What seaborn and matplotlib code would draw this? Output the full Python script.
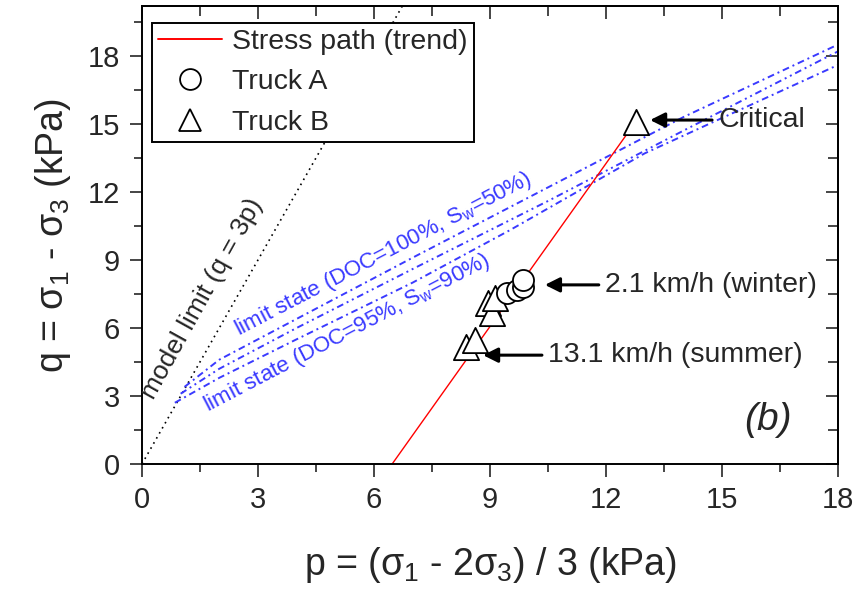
import numpy as np
import pandas as pd
import matplotlib
matplotlib.use("Agg")
import matplotlib.pyplot as plt
import seaborn as sns
from matplotlib.ticker import MultipleLocator
from matplotlib.lines import Line2D

# Stress path trend (p, q) in kPa
stress_p = [6.47, 12.77]
stress_q = [0.0, 15.1]

# Truck A measurements
truck_a_p = [9.44, 9.70, 9.85, 9.85]
truck_a_q = [7.53, 7.68, 7.80, 8.10]

# Truck B measurements (last point = critical state)
truck_b_p = [8.38, 8.61, 8.95, 9.05, 9.13, 12.77]
truck_b_q = [5.16, 5.47, 7.10, 6.66, 7.30, 15.1]

# Model limit q = 3p
model_p = [0.0, 6.8]
model_q = [0.0, 20.4]

# Limit-state envelopes
ls_upper_p = [1.10, 2.0, 4.0, 7.0, 10.5, 14.0, 18.0]
ls_upper_q = [3.40, 4.6, 6.4, 9.1, 12.2, 15.3, 18.5]
ls_mid_p = [1.00, 2.0, 4.0, 7.0, 10.5, 14.0, 18.0]
ls_mid_q = [3.10, 4.2, 6.0, 8.6, 11.6, 14.7, 18.2]
ls_lower_p = [0.85, 2.0, 4.0, 7.0, 9.5, 13.0, 18.0]
ls_lower_q = [2.70, 3.8, 5.5, 8.0, 10.3, 13.7, 17.6]

sns.set_theme(style="ticks")
plt.rcParams["font.family"] = ["Liberation Sans", "DejaVu Sans"]
plt.rcParams["mathtext.fontset"] = "custom"
plt.rcParams["mathtext.rm"] = "Liberation Sans"
plt.rcParams["mathtext.it"] = "Liberation Sans:italic"
plt.rcParams["mathtext.default"] = "regular"

fig = plt.figure(figsize=(8.61, 5.90), dpi=100)
ax = fig.add_axes([0.1649, 0.2136, 0.8084, 0.7762])

blue = "#3a3aff"

# model limit
sns.lineplot(x=model_p, y=model_q, ax=ax, color="black", lw=1.2,
             linestyle=(0, (1, 2.5)), sort=False)

# limit-state lines
for lp, lq, dash in [(ls_upper_p, ls_upper_q, (0, (3.5, 2, 1, 2))),
                     (ls_mid_p, ls_mid_q, (0, (3.5, 2, 1, 2, 1, 2))),
                     (ls_lower_p, ls_lower_q, (0, (3.5, 2, 1, 2)))]:
    sns.lineplot(x=lp, y=lq, ax=ax, color=blue, lw=1.4, linestyle=dash, sort=False)

# stress path
sns.lineplot(x=stress_p, y=stress_q, ax=ax, color="red", lw=1.0, sort=False)

# truck markers
sns.scatterplot(x=truck_b_p, y=truck_b_q, ax=ax, marker="^", s=330,
                facecolor="white", edgecolor="black", linewidth=1.3, zorder=5)
sns.scatterplot(x=truck_a_p, y=truck_a_q, ax=ax, marker="o", s=230,
                facecolor="white", edgecolor="black", linewidth=1.3, zorder=6)

ax.set_xlim(0, 18)
ax.set_ylim(0, 20.2)
ax.xaxis.set_major_locator(MultipleLocator(3))
ax.xaxis.set_minor_locator(MultipleLocator(1.5))
ax.yaxis.set_major_locator(MultipleLocator(3))
ax.yaxis.set_minor_locator(MultipleLocator(1.5))
ax.tick_params(which="both", direction="out", width=1.2, labelsize=21,
               top=False, right=False, pad=7)
ax.tick_params(which="major", length=9)
ax.tick_params(which="minor", length=6)
for s in ax.spines.values():
    s.set_visible(True)
    s.set_linewidth(1.4)
    s.set_color("black")

# mirrored inward ticks on top and right
axt = ax.secondary_xaxis("top")
axt.xaxis.set_major_locator(MultipleLocator(3))
axt.xaxis.set_minor_locator(MultipleLocator(1.5))
axt.tick_params(which="both", direction="in", width=1.2, labeltop=False)
axt.tick_params(which="major", length=9)
axt.tick_params(which="minor", length=7)
axr = ax.secondary_yaxis("right")
axr.yaxis.set_major_locator(MultipleLocator(3))
axr.yaxis.set_minor_locator(MultipleLocator(1.5))
axr.tick_params(which="both", direction="in", width=1.2, labelright=False)
axr.tick_params(which="major", length=9)
axr.tick_params(which="minor", length=7)

ax.set_xlabel(r"p = ($\sigma_1$ - 2$\sigma_3$) / 3 (kPa)", fontsize=27, labelpad=22)
ax.set_ylabel(r"q = $\sigma_1$ - $\sigma_3$ (kPa)", fontsize=27, labelpad=10)

# rotated line labels
ax.text(1.55, 7.3, "model limit (q = 3p)", rotation=61, fontsize=19,
        ha="center", va="center", rotation_mode="anchor")
ax.text(6.25, 9.25, r"limit state (DOC=100%, S$_w$=50%)", rotation=27.5,
        fontsize=16, color=blue, ha="center", va="center", rotation_mode="anchor")
ax.text(5.3, 5.75, r"limit state (DOC=95%, S$_w$=90%)", rotation=27.5,
        fontsize=16, color=blue, ha="center", va="center", rotation_mode="anchor")

# annotations
arrow = dict(arrowstyle="-|>", color="black", lw=2.2, mutation_scale=22,
             shrinkA=2, shrinkB=0)
ax.annotate("Critical", xy=(13.14, 15.17), xytext=(14.9, 15.17), fontsize=20.5,
            va="center", ha="left", arrowprops=arrow)
ax.annotate("2.1 km/h (winter)", xy=(10.42, 7.9), xytext=(11.97, 7.9), fontsize=20.5,
            va="center", ha="left", arrowprops=arrow)
ax.annotate("13.1 km/h (summer)", xy=(8.82, 4.8), xytext=(10.5, 4.8), fontsize=20.5,
            va="center", ha="left", arrowprops=arrow)
ax.text(16.2, 1.95, "(b)", fontsize=28, style="italic", ha="center", va="center")

handles = [Line2D([], [], color="red", lw=1.4),
           Line2D([], [], marker="o", ls="none", mfc="white", mec="black", ms=15, mew=1.3),
           Line2D([], [], marker="^", ls="none", mfc="white", mec="black", ms=16, mew=1.3)]
leg = ax.legend(handles, ["Stress path (trend)", "Truck A", "Truck B"],
                loc="upper left", bbox_to_anchor=(0.0144, 0.963), fontsize=20.5,
                frameon=True, fancybox=False, edgecolor="black", framealpha=1,
                borderpad=0.22, labelspacing=0.5, handlelength=2.25,
                handletextpad=0.35, borderaxespad=0)
leg.get_frame().set_linewidth(1.4)

fig.savefig("out.png", dpi=100)
